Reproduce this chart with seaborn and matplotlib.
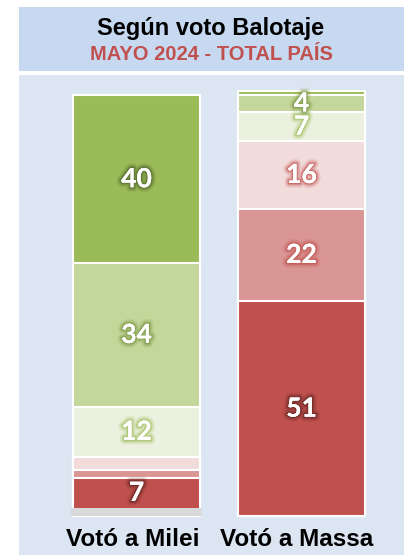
import numpy as np
import pandas as pd
import matplotlib
matplotlib.use("Agg")
import matplotlib.pyplot as plt
import matplotlib.patheffects as pe
from matplotlib.patches import Rectangle
import seaborn as sns

# ---- data ----
candidates = ["Votó a Milei", "Votó a Massa"]
# stacking order from bottom to top
categories = ["Ns/Nc", "Muy mala", "Mala", "Regular mala", "Regular buena", "Buena", "Muy buena"]
milei = [2, 7, 2, 3, 12, 34, 40]
massa = [0, 51, 22, 16, 7, 4, 1]
colors = ["#D9D9D9", "#C0504D", "#DA9694", "#F2DCDB", "#EBF1DE", "#C4D79B", "#9BBB59"]
glows = ["#808080", "#632523", "#C0504D", "#C0504D", "#9BBB59", "#76933C", "#4F6228"]
title = "Según voto Balotaje"
subtitle = "MAYO 2024 - TOTAL PAÍS"

sns.set_style("white")
plt.rcParams["font.family"] = ["Liberation Sans", "DejaVu Sans"]

W, H = 404, 555
fig = plt.figure(figsize=(W / 100, H / 100), dpi=100)
fig.patch.set_facecolor("white")

# title box
fig.add_artist(Rectangle((19 / W, 1 - 71 / H), (404 - 19) / W, 64 / H,
                         transform=fig.transFigure, facecolor="#C6D9F1",
                         edgecolor="none", zorder=0))
fig.text(211 / W, 1 - 35 / H, title, ha="center", va="baseline",
         fontsize=17, fontweight="bold", color="black")
fig.text(211 / W, 1 - 60 / H, subtitle, ha="center", va="baseline",
         fontsize=14.5, fontweight="bold", color="#C0504D")

ax = fig.add_axes([19 / W, 0, (404 - 19) / W, (555 - 75) / H])
ax.set_facecolor("#DCE6F2")

vals = np.array([milei, massa], dtype=float)  # shape (2, ncat)
cum = np.cumsum(vals, axis=1)

# draw cumulative bars, tallest first, so each segment shows its own colour
for i in range(len(categories) - 1, -1, -1):
    df = pd.DataFrame({"cand": candidates, "val": cum[:, i]})
    lw = 0 if i == 0 else 1.5
    sns.barplot(data=df, x="cand", y="val", color=colors[i], saturation=1,
                width=0.77 if i else 0.79, edgecolor="white", linewidth=lw,
                ax=ax, order=candidates)

# labels
for j in range(len(candidates)):
    bottom = 0
    for i in range(len(categories)):
        v = vals[j, i]
        if v >= 4:
            t = ax.text(j, bottom + v / 2, f"{v:.0f}", ha="center", va="center",
                        fontsize=19, fontweight="bold", color="white",
                        family=["Lato", "DejaVu Sans"], zorder=5)
            t.set_path_effects([
                pe.withStroke(linewidth=7, foreground=glows[i], alpha=0.12),
                pe.withStroke(linewidth=5, foreground=glows[i], alpha=0.2),
                pe.withStroke(linewidth=3, foreground=glows[i], alpha=0.35),
                pe.withStroke(linewidth=1.5, foreground=glows[i], alpha=0.5),
                pe.Normal()])
        bottom += v

ppu = 4.21
# category labels under bars
label_x = [-0.021, 0.973]
for j, c in enumerate(candidates):
    ax.text(label_x[j], -(546 - 516) / ppu, c, ha="center", va="baseline",
            fontsize=17.5, fontweight="bold", color="black")

ax.set_ylim(-(555 - 516) / ppu, 100 + (95 - 75) / ppu)
ax.set_xlim(-0.712, 1.621)
ax.set_xlabel("")
ax.set_ylabel("")
ax.set_xticks([])
ax.set_yticks([])
for s in ax.spines.values():
    s.set_visible(False)

fig.savefig("out.png", dpi=100)
